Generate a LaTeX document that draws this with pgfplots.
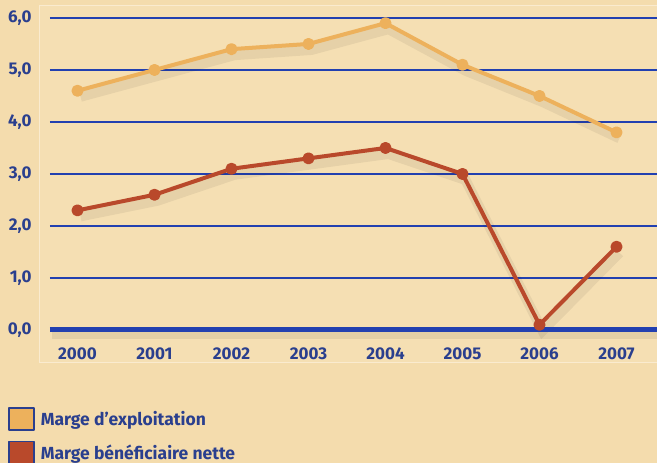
\documentclass[border=0pt]{standalone}
\usepackage{pgfplots}
\pgfplotsset{compat=1.18}
\usepackage{fontspec}
\setmainfont{Fira Sans}
\definecolor{bg}{HTML}{F4DCAD}
\definecolor{plotbg}{HTML}{F5DFB3}
\definecolor{plotborder}{HTML}{FAEBCF}
\definecolor{txtblue}{HTML}{2A3F8E}
\definecolor{gridblue}{HTML}{2240B0}
\definecolor{orangeL}{HTML}{EDB15C}
\definecolor{redL}{HTML}{B9492B}
\pgfplotstableread{
x exploit nette
0 4.6 2.3
1 5.0 2.6
2 5.4 3.1
3 5.5 3.3
4 5.9 3.5
5 5.1 3.0
6 4.5 0.1
7 3.8 1.6
}\data
\begin{document}
\begin{tikzpicture}[x=1pt,y=1pt]
\fill[bg] (0,0) rectangle (657,463);
\begin{axis}[
  at={(39pt,100pt)}, anchor=south west,
  scale only axis, width=618pt, height=357pt,
  xmin=-0.5, xmax=7.526, ymin=-0.635, ymax=6.23,
  axis background/.style={fill=plotbg},
  axis line style={draw=plotborder, line width=1pt},
  xtick={0,...,7}, xticklabels={2000,2001,2002,2003,2004,2005,2006,2007},
  ytick={0,1,...,6},
  major tick length=0pt,
  yticklabel={\pgfmathprintnumber[fixed,fixed zerofill,precision=1,use comma]{\tick}},
  /pgf/number format/assume math mode=true,
  ticklabel style={font=\fontsize{17}{17}\selectfont\bfseries, text=txtblue},
  xticklabel style={yshift=19pt},
  yticklabel style={xshift=-4pt},
  clip=false,
  legend style={at={(-0.05,-0.124)}, anchor=north west, draw=none, fill=none,
     inner sep=0pt, row sep=10pt, font=\fontsize{17.5}{17.5}\selectfont\bfseries, text=txtblue,
     legend cell align=left, /tikz/every odd column/.append style={column sep=4pt}},
]
\foreach \yy in {1,...,6} {\edef\tmp{\noexpand\draw[gridblue, line width=1.3pt] (axis cs:-0.36,\yy) -- (axis cs:7.526,\yy);}\tmp}
% shadows
\addplot[black, opacity=0.06, line width=10pt, forget plot, transform canvas={xshift=3pt,yshift=-6pt}] table[x=x,y=exploit]{\data};
\addplot[black, opacity=0.06, line width=10pt, forget plot, transform canvas={xshift=3pt,yshift=-6pt}] table[x=x,y=nette]{\data};
\draw[black, opacity=0.07, line width=9pt] (axis cs:-0.33,-0.09) -- (axis cs:7.526,-0.09);
\draw[gridblue, line width=5pt] (axis cs:-0.36,0) -- (axis cs:7.526,0);
\addplot[orangeL, line width=4pt, line join=round, mark=*, mark size=4pt, mark options={solid, fill=orangeL, draw=none}, legend image code/.code={\draw[draw=txtblue, line width=1.5pt, fill=orangeL] (0pt,-11pt) rectangle (25pt,11pt);}] table[x=x,y=exploit]{\data};
\addlegendentry{Marge d'exploitation}
\addplot[redL, line width=4pt, line join=round, mark=*, mark size=4pt, mark options={solid, fill=redL, draw=none}, legend image code/.code={\draw[draw=txtblue, line width=1.5pt, fill=redL] (0pt,-11pt) rectangle (25pt,11pt);}] table[x=x,y=nette]{\data};
\addlegendentry{Marge bénéficiaire nette}
\end{axis}
\pgfresetboundingbox
\path (0,0) rectangle (657,463);
\end{tikzpicture}
\end{document}
